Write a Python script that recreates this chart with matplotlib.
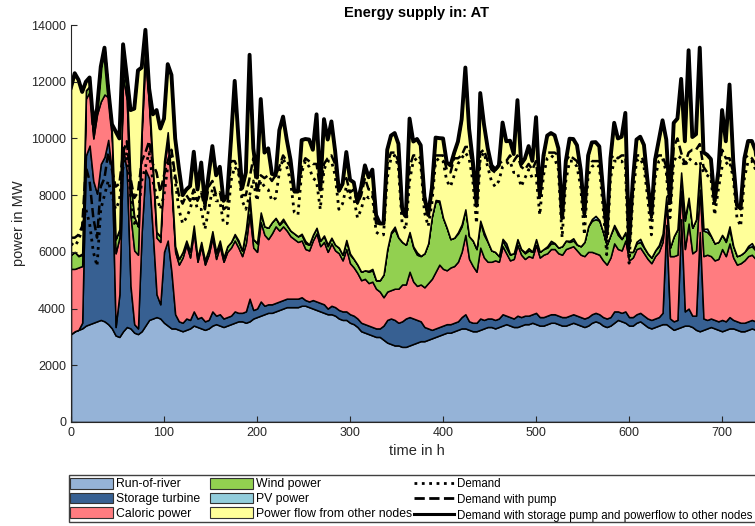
import numpy as np
import matplotlib
matplotlib.use('Agg')
import matplotlib.pyplot as plt
from matplotlib.patches import Patch, Rectangle
from matplotlib.lines import Line2D

plt.rcParams['font.family'] = ['Liberation Sans', 'DejaVu Sans']

# sample times (every 4 h)
hours = np.arange(0, 745, 4)

run_of_river = [
    3100, 3200, 3250, 3300, 3400, 3450,
    3500, 3550, 3600, 3550, 3450, 3300,
    3050, 3000, 3200, 3350, 3300, 3150,
    3100, 3200, 3400, 3600, 3650, 3700,
    3650, 3500, 3400, 3300, 3300, 3250,
    3200, 3250, 3300, 3400, 3350, 3300,
    3250, 3300, 3400, 3450, 3400, 3350,
    3400, 3450, 3500, 3550, 3550, 3500,
    3550, 3650, 3700, 3750, 3800, 3850,
    3850, 3900, 3950, 4000, 4050, 4050,
    4050, 4050, 4100, 4100, 4050, 4000,
    3950, 3900, 3850, 3800, 3800, 3750,
    3650, 3600, 3600, 3500, 3450, 3350,
    3200, 3150, 3100, 3050, 3000, 3000,
    2900, 2800, 2750, 2700, 2700, 2650,
    2650, 2700, 2750, 2800, 2850, 2850,
    2900, 2950, 3000, 3050, 3100, 3150,
    3150, 3200, 3250, 3300, 3300, 3250,
    3200, 3200, 3250, 3300, 3350, 3350,
    3300, 3350, 3400, 3450, 3400, 3350,
    3350, 3400, 3450, 3450, 3500, 3450,
    3400, 3400, 3450, 3500, 3500, 3450,
    3400, 3400, 3450, 3500, 3450, 3400,
    3350, 3400, 3500, 3550, 3500, 3400,
    3350, 3400, 3500, 3600, 3550, 3500,
    3400, 3400, 3500, 3550, 3450, 3350,
    3300, 3350, 3400, 3450, 3450, 3350,
    3250, 3300, 3350, 3400, 3400, 3350,
    3250, 3200, 3250, 3300, 3350, 3300,
    3250, 3200, 3250, 3300, 3300, 3250,
    3200, 3200, 3250, 3300, 3250, 3200,
    3200]

storage_turbine = [
    0, 0, 0, 200, 6000, 6300,
    5000, 4500, 5500, 5800, 6500, 5500,
    300, 1500, 6500, 5500, 1500, 300,
    200, 3500, 5500, 5000, 3000, 800,
    500, 2500, 3000, 2000, 500, 300,
    300, 400, 300, 500, 300, 400,
    300, 300, 500, 300, 400, 300,
    300, 300, 400, 300, 300, 400,
    800, 300, 300, 500, 300, 300,
    300, 300, 300, 300, 300, 300,
    300, 300, 300, 200, 200, 300,
    300, 300, 300, 200, 300, 300,
    300, 300, 300, 300, 300, 300,
    300, 300, 300, 300, 300, 300,
    500, 800, 900, 900, 800, 900,
    1000, 1000, 900, 800, 700, 500,
    400, 300, 300, 300, 300, 300,
    300, 300, 300, 400, 500, 300,
    300, 300, 400, 300, 300, 300,
    300, 300, 400, 300, 300, 300,
    400, 300, 300, 300, 300, 400,
    300, 300, 300, 300, 300, 300,
    300, 300, 300, 300, 300, 300,
    300, 300, 300, 300, 300, 300,
    300, 300, 400, 300, 300, 400,
    300, 300, 300, 300, 300, 300,
    300, 300, 300, 400, 3500, 300,
    300, 300, 3800, 500, 600, 400,
    500, 3500, 400, 300, 300, 300,
    300, 400, 300, 400, 300, 300,
    300, 300, 300, 300, 300, 300,
    300]

caloric = [
    2300, 2200, 2200, 2000, 2000, 1900,
    1500, 2800, 2200, 2200, 1500, 1200,
    2600, 2000, 2500, 2500, 2500, 2600,
    2600, 3500, 4000, 2500, 2200, 2000,
    2200, 3000, 3500, 3000, 2200, 2000,
    2300, 2600, 2200, 2800, 2000, 2500,
    2000, 2300, 2600, 2000, 2400, 2000,
    2300, 2400, 2500, 2300, 2000, 2400,
    3000, 2200, 2000, 2800, 2500, 2300,
    2500, 2700, 2500, 2600, 2400, 2200,
    2100, 2000, 2000, 1800, 1800, 2100,
    2400, 2000, 2200, 2000, 2200, 2000,
    2000, 1800, 2200, 1800, 1700, 1600,
    1500, 1600, 1500, 1600, 1400, 1300,
    1000, 1000, 1000, 1100, 1200, 1300,
    1200, 1600, 1300, 1200, 1300, 1400,
    1600, 1800, 2000, 2200, 2000, 1900,
    2000, 2000, 2100, 2300, 2800, 2200,
    2000, 1800, 2500, 2200, 2000, 2000,
    2100, 2000, 2400, 2200, 2000, 2100,
    2500, 2200, 2000, 2100, 2000, 2400,
    2100, 2200, 2200, 2300, 2300, 2200,
    2200, 2400, 2400, 2400, 2300, 2200,
    2200, 2300, 2200, 2100, 2100, 2000,
    1900, 2100, 2400, 2200, 2200, 2500,
    2000, 2100, 2300, 2300, 2200, 2100,
    2000, 2200, 2300, 2500, 700, 2200,
    2300, 2300, 1000, 2200, 3000, 2200,
    2300, 1500, 2200, 2300, 2200, 2100,
    2200, 2500, 2300, 2600, 2200, 2000,
    2100, 2200, 2300, 2300, 2200, 2100,
    2000]

wind = [
    500, 600, 400, 400, 300, 200,
    200, 200, 1200, 1600, 300, 200,
    500, 300, 300, 500, 1200, 1200,
    1000, 300, 600, 300, 200, 200,
    200, 200, 300, 200, 200, 200,
    200, 150, 200, 200, 150, 150,
    150, 200, 200, 200, 200, 150,
    200, 200, 200, 200, 200, 500,
    600, 300, 300, 300, 300, 400,
    400, 300, 200, 200, 200, 200,
    200, 200, 200, 200, 200, 200,
    200, 200, 200, 200, 200, 200,
    200, 200, 300, 300, 300, 300,
    300, 300, 400, 400, 300, 400,
    800, 1500, 2000, 2100, 1800, 1500,
    1400, 1400, 1200, 1100, 1000, 1200,
    1400, 2200, 2500, 2200, 1800, 1500,
    1000, 1000, 1000, 900, 900, 800,
    900, 800, 900, 800, 700, 400,
    300, 200, 200, 200, 200, 200,
    200, 200, 200, 200, 200, 200,
    200, 200, 200, 200, 200, 200,
    300, 300, 200, 200, 200, 300,
    500, 900, 1100, 1200, 1200, 1000,
    700, 800, 600, 500, 400, 300,
    300, 200, 200, 200, 200, 200,
    200, 200, 200, 200, 300, 300,
    700, 900, 600, 1000, 900, 900,
    1100, 900, 900, 800, 700, 600,
    600, 500, 500, 500, 400, 300,
    300, 300, 300, 300, 300, 300,
    300]

pv = [
    0, 0, 20, 40, 0, 0,
    0, 0, 30, 50, 0, 0,
    0, 0, 20, 40, 0, 0,
    0, 0, 30, 60, 0, 0,
    0, 0, 20, 40, 0, 0,
    0, 0, 20, 30, 0, 0,
    0, 0, 30, 50, 0, 0,
    0, 0, 30, 60, 0, 0,
    0, 0, 20, 40, 0, 0,
    0, 0, 40, 70, 0, 0,
    0, 0, 40, 80, 10, 0,
    0, 0, 30, 60, 0, 0,
    0, 0, 20, 40, 0, 0,
    0, 0, 30, 50, 0, 0,
    0, 0, 50, 90, 10, 0,
    0, 0, 40, 80, 10, 0,
    0, 0, 30, 60, 0, 0,
    0, 0, 40, 70, 0, 0,
    0, 0, 50, 100, 10, 0,
    0, 0, 60, 150, 20, 0,
    0, 0, 40, 80, 10, 0,
    0, 0, 50, 90, 10, 0,
    0, 0, 40, 80, 10, 0,
    0, 0, 60, 120, 20, 0,
    0, 0, 50, 100, 10, 0,
    0, 0, 60, 110, 20, 0,
    0, 0, 40, 90, 10, 0,
    0, 0, 50, 100, 10, 0,
    0, 0, 60, 120, 20, 0,
    0, 0, 50, 100, 10, 0,
    0, 0, 60, 110, 20, 0,
    0]

power_flow = [
    5900, 6300, 6200, 5700, 300, 300,
    300, 0, 0, 0, 0, 300,
    3800, 3200, 800, 300, 2500, 3800,
    5500, 2000, 300, 300, 1800, 4300,
    3800, 1500, 2400, 3700, 3800, 3200,
    2000, 1800, 2300, 2600, 2400, 2800,
    2000, 2600, 3000, 2700, 2600, 2000,
    1800, 3600, 5400, 3600, 2200, 2000,
    5000, 3200, 2300, 4000, 2600, 2800,
    1700, 1500, 3300, 3600, 3000, 2500,
    1500, 1600, 3300, 3600, 3700, 3000,
    4000, 1800, 4100, 3700, 4100, 3300,
    2000, 2500, 3100, 2600, 2700, 2200,
    3000, 3700, 3300, 3500, 2300, 2000,
    1800, 3500, 3400, 3300, 3300, 1200,
    1000, 4000, 3700, 4000, 3900, 2000,
    1000, 1000, 2200, 2200, 2800, 2300,
    2600, 3000, 3200, 3700, 5000, 3800,
    2800, 1600, 4500, 3800, 3300, 3000,
    2900, 3200, 4100, 3600, 4000, 3500,
    4900, 3000, 3300, 3600, 3200, 4300,
    2000, 3300, 3900, 3800, 3800, 3500,
    1000, 2800, 3600, 3500, 3500, 2700,
    1000, 2500, 2700, 2600, 2600, 1500,
    400, 2700, 3600, 3300, 3600, 4200,
    300, 2500, 3600, 3600, 3600, 2500,
    1500, 3200, 3700, 4000, 2000, 1600,
    4000, 3900, 3300, 2700, 5200, 3200,
    3000, 4100, 2700, 2600, 2700, 1500,
    2500, 4400, 3500, 5000, 3000, 1800,
    1700, 3300, 3700, 3600, 3500, 2500,
    1500]

demand = [
    6300, 6200, 6400, 6800, 7500, 7000,
    6000, 5500, 7500, 8000, 8500, 8000,
    7500, 7800, 9000, 9500, 8000, 7000,
    7200, 8500, 9000, 9500, 8500, 8000,
    7500, 8000, 9000, 9500, 8500, 7500,
    7000, 7200, 7500, 8000, 7500, 7500,
    6800, 7500, 8200, 7800, 7800, 7000,
    7000, 8500, 9000, 8800, 7800, 7500,
    8000, 8500, 7800, 8500, 8300, 8200,
    7800, 7900, 8800, 9300, 9000, 8500,
    7400, 7300, 8800, 9200, 9000, 8600,
    8500, 7500, 8900, 9200, 9200, 8700,
    7500, 7700, 8300, 7900, 7900, 7200,
    7500, 8000, 7900, 8000, 6700, 6600,
    6600, 8600, 9300, 9400, 9000, 7000,
    6800, 8500, 9200, 9300, 9100, 7400,
    6900, 7700, 9200, 9300, 9200, 8500,
    8300, 8700, 9100, 9300, 9500, 9300,
    8500, 7000, 9300, 9500, 9000, 8500,
    8300, 8500, 9000, 9100, 9200, 8800,
    8800, 8300, 8600, 8900, 8600, 8700,
    7300, 8700, 9300, 9400, 9300, 8900,
    6500, 8500, 9200, 9200, 9000, 8300,
    6600, 8700, 9000, 9100, 9000, 7600,
    5900, 8600, 9200, 9200, 9200, 9000,
    5600, 7900, 9200, 9300, 9000, 7900,
    6600, 8600, 9200, 9300, 8800, 7200,
    9200, 9400, 9300, 9000, 9300, 9200,
    9100, 9200, 8800, 8700, 8600, 7300,
    8200, 9000, 9100, 9200, 8600, 7200,
    6900, 8600, 9200, 9200, 8900, 7800,
    6600]

pump_load = [
    200, 300, 200, 100, 1500, 1500,
    1200, 1000, 800, 600, 1000, 900,
    800, 600, 500, 400, 600, 900,
    900, 700, 500, 400, 600, 800,
    600, 700, 200, 100, 200, 500,
    700, 800, 300, 200, 300, 600,
    700, 800, 300, 200, 300, 500,
    600, 700, 200, 100, 200, 500,
    600, 800, 300, 200, 300, 500,
    700, 800, 200, 100, 200, 500,
    700, 800, 200, 100, 200, 500,
    600, 700, 200, 100, 200, 400,
    600, 700, 300, 200, 300, 500,
    500, 600, 300, 200, 300, 400,
    400, 500, 200, 100, 200, 400,
    400, 500, 200, 100, 200, 400,
    400, 500, 200, 100, 200, 400,
    500, 600, 200, 100, 200, 400,
    500, 600, 200, 100, 200, 400,
    500, 600, 200, 100, 200, 400,
    600, 700, 300, 200, 300, 500,
    600, 700, 200, 100, 200, 500,
    600, 700, 200, 100, 200, 500,
    600, 700, 200, 100, 200, 500,
    600, 700, 200, 100, 200, 400,
    600, 700, 200, 100, 200, 500,
    600, 700, 200, 100, 200, 500,
    500, 600, 200, 100, 200, 400,
    500, 600, 200, 100, 200, 400,
    500, 600, 200, 100, 200, 400,
    600, 700, 200, 100, 200, 500,
    600]

area_labels = ['Run-of-river', 'Storage turbine', 'Caloric power',
               'Wind power', 'PV power', 'Power flow from other nodes']
line_labels = ['Demand', 'Demand with pump',
               'Demand with storage pump and powerflow to other nodes']
area_colors = ['#95B3D7', '#376092', '#FF7C80', '#92D050', '#92CDDC', '#FFFF99']

layers = np.array([run_of_river, storage_turbine, caloric, wind, pv, power_flow], dtype=float)
total_supply = layers.sum(axis=0)
demand_arr = np.array(demand, dtype=float)
demand_pump = demand_arr + np.array(pump_load, dtype=float)

W, H = 755, 526
fig = plt.figure(figsize=(W / 100, H / 100), dpi=100)
ax = fig.add_axes([71 / W, 104 / H, 692 / W, 397 / H])

ax.stackplot(hours, layers, colors=area_colors, edgecolor='black', linewidth=1.1)
ax.plot(hours, demand_arr, color='black', linestyle=':', linewidth=2.0)
ax.plot(hours, demand_pump, color='black', linestyle='--', linewidth=1.8)
ax.plot(hours, total_supply, color='black', linestyle='-', linewidth=2.8)

ax.set_xlim(0, 744)
ax.set_ylim(0, 14000)
ax.set_xticks(range(0, 701, 100))
ax.set_yticks(range(0, 14001, 2000))
ax.tick_params(direction='in', labelsize=9, length=4, width=0.8, colors='#262626')
for s in ['top', 'right']:
    ax.spines[s].set_visible(False)
for s in ['left', 'bottom']:
    ax.spines[s].set_linewidth(0.8)
    ax.spines[s].set_color('#262626')

ax.set_title('Energy supply in: AT', fontweight='bold', fontsize=10.5, pad=6)
ax.set_xlabel('time in h', fontsize=10.5, color='#262626')
ax.set_ylabel('power in MW', fontsize=10.5, color='#262626')

# legend: outer frame plus three frameless columns
fig.patches.append(Rectangle((69 / W, 1 - 522 / H), 710 / W, 47 / H,
                             transform=fig.transFigure, facecolor='white',
                             edgecolor='#404040', linewidth=1.0, zorder=0))

area_handles = [Patch(facecolor=c, edgecolor='#333333', linewidth=0.8) for c in area_colors]
line_handles = [Line2D([], [], color='black', linestyle=':', linewidth=2.0),
                Line2D([], [], color='black', linestyle='--', linewidth=2.0),
                Line2D([], [], color='black', linestyle='-', linewidth=2.2)]

common = dict(loc='upper left', frameon=False, handleheight=0.95,
              handletextpad=0.25, labelspacing=0.18, borderpad=0.0,
              borderaxespad=0)
fig.legend(area_handles[:3], area_labels[:3], bbox_to_anchor=(70 / W, 1 - 478 / H),
           fontsize=8.8, handlelength=3.5, **common)
fig.legend(area_handles[3:], area_labels[3:], bbox_to_anchor=(210 / W, 1 - 478 / H),
           fontsize=8.8, handlelength=3.5, **common)
fig.legend(line_handles, line_labels, bbox_to_anchor=(414 / W, 1 - 478 / H),
           fontsize=8.3, handlelength=3.5, labelspacing=0.34,
           **{k: v for k, v in common.items() if k != 'labelspacing'})

fig.savefig('out.png', dpi=100)
